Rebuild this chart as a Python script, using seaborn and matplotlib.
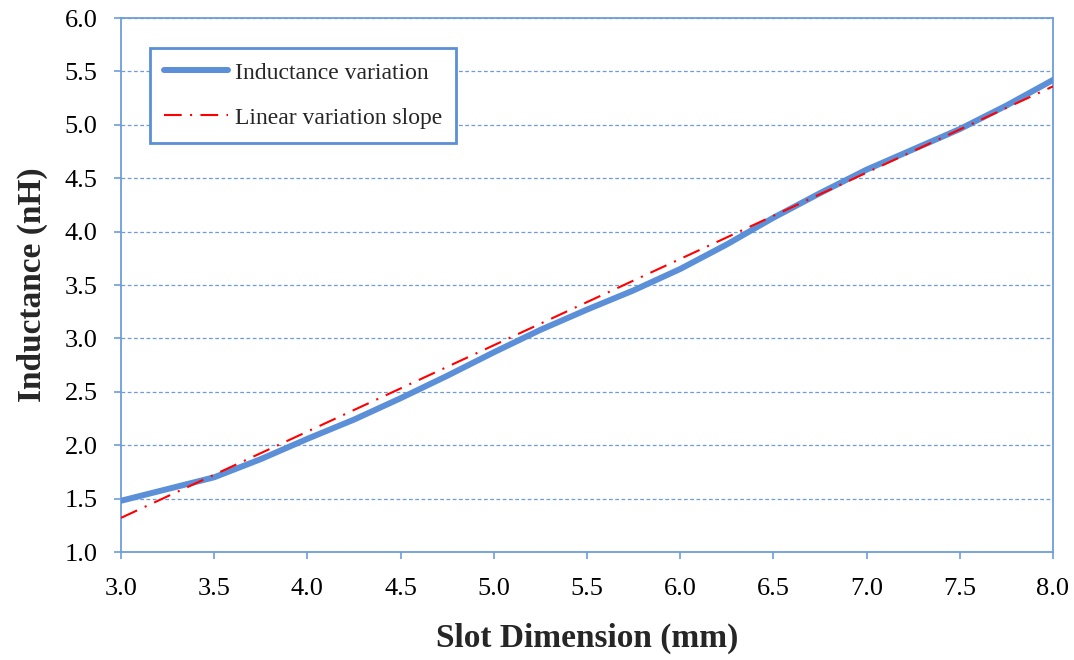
import numpy as np
import pandas as pd
import matplotlib
matplotlib.use("Agg")
import matplotlib.pyplot as plt
import seaborn as sns

# Data
slot_mm = [3.0, 3.25, 3.5, 3.75, 4.0, 4.25, 4.5, 4.75, 5.0, 5.25, 5.5,
           5.75, 6.0, 6.25, 6.5, 6.75, 7.0, 7.25, 7.5, 7.75, 8.0]
inductance_nH = [1.48, 1.59, 1.70, 1.87, 2.06, 2.24, 2.44, 2.65, 2.87, 3.08, 3.27,
                 3.45, 3.65, 3.88, 4.13, 4.36, 4.58, 4.77, 4.96, 5.18, 5.42]
linear_x = [3.0, 8.0]
linear_y = [1.32, 5.36]

x_ticks = [3.0, 3.5, 4.0, 4.5, 5.0, 5.5, 6.0, 6.5, 7.0, 7.5, 8.0]
y_ticks = [1.0, 1.5, 2.0, 2.5, 3.0, 3.5, 4.0, 4.5, 5.0, 5.5, 6.0]

sns.set_theme(style="white")
plt.rcParams['font.family'] = ['Liberation Serif', 'DejaVu Serif']

fig = plt.figure(figsize=(10.74, 6.6), dpi=100)
ax = fig.add_axes([0.1127, 0.1636, 0.8677, 0.8091])

df1 = pd.DataFrame({"x": slot_mm, "y": inductance_nH})
df2 = pd.DataFrame({"x": linear_x, "y": linear_y})

axis_blue = "#6D9DDB"
ax.yaxis.grid(True, linestyle=(0, (3, 2)), color="#6F9BDA", linewidth=0.9)
ax.set_axisbelow(True)

sns.lineplot(data=df1, x="x", y="y", ax=ax, color="#5B8FD8", linewidth=4.3,
             label="Inductance variation", solid_capstyle="round",
             solid_joinstyle="round", zorder=3)
sns.lineplot(data=df2, x="x", y="y", ax=ax, color="#FF0000", linewidth=1.5,
             linestyle=(0, (8.5, 4.0, 1.0, 4.0)), label="Linear variation slope", zorder=4)

ax.set_xlim(3.0, 8.0)
ax.set_ylim(1.0, 6.0)
ax.set_xticks(x_ticks)
ax.set_yticks(y_ticks)
ax.set_xticklabels([f"{v:.1f}" for v in x_ticks])
ax.set_yticklabels([f"{v:.1f}" for v in y_ticks])
ax.tick_params(axis="both", which="major", bottom=True, left=True, direction="out",
               length=5, width=1.2, color=axis_blue,
               labelsize=19, labelcolor="black")
ax.tick_params(axis="x", pad=14)
ax.tick_params(axis="y", pad=12)

for s in ax.spines.values():
    s.set_visible(True)
    s.set_color(axis_blue)
    s.set_linewidth(1.3)

ax.set_xlabel("Slot Dimension (mm)", fontsize=24, fontweight="bold", labelpad=16)
ax.set_ylabel("Inductance (nH)", fontsize=24, fontweight="bold", labelpad=12)

leg = ax.legend(loc="upper left", bbox_to_anchor=(0.031, 0.944), fontsize=17,
                frameon=True, fancybox=False, handlelength=2.7, labelspacing=1.0,
                borderpad=0.6, handletextpad=0.3, borderaxespad=0)
leg.get_frame().set_edgecolor("#5B8FD8")
leg.get_frame().set_linewidth(2.0)
leg.get_frame().set_facecolor("white")
leg.get_frame().set_alpha(1.0)

fig.savefig("out.png", dpi=100)
